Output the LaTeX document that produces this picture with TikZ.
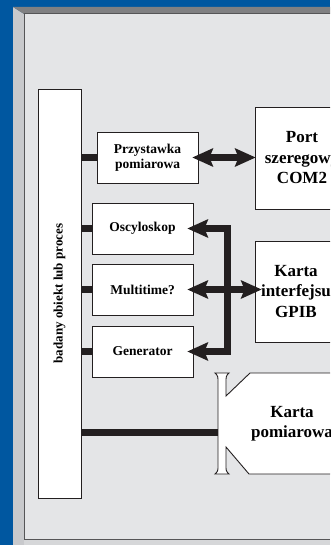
\documentclass[tikz,border=0pt]{standalone}
\usepackage{fontspec}
\setmainfont{Liberation Serif}
\usetikzlibrary{arrows.meta}

\definecolor{framebg}{RGB}{0,87,160}
\definecolor{bevellight}{RGB}{200,201,204}
\definecolor{beveldark}{RGB}{128,128,130}
\definecolor{bottomband}{RGB}{214,215,217}
\definecolor{panelgray}{RGB}{228,229,231}
\definecolor{edgeline}{RGB}{85,85,87}
\definecolor{ink}{RGB}{35,31,32}

\tikzset{
    base/.style={draw=ink, fill=white, line width=0.9pt, align=center, inner sep=0pt},
    smallbox/.style={base, minimum width=101pt, minimum height=51pt, font=\fontsize{13.5}{15}\selectfont\bfseries},
    bigbox/.style={base, minimum height=102pt, font=\fontsize{17}{20.5}\selectfont\bfseries},
    objbox/.style={base, minimum width=43pt, minimum height=409pt, font=\fontsize{13}{14}\selectfont\bfseries},
    stub/.style={draw=ink, line width=7pt},
    busarrow/.style={draw=ink, line width=7pt, line join=miter,
        {Stealth[length=21pt, width=19pt, inset=4pt, line width=0pt]}-{Stealth[length=21pt, width=19pt, inset=4pt, line width=0pt]}}
}

\begin{document}
\begin{tikzpicture}[x=1pt, y=-1pt]
    \useasboundingbox (0,0) rectangle (330,545);
    \clip (0,0) rectangle (330,545);

    % Frame
    \fill[framebg] (0,0) rectangle (330,545);
    \fill[bevellight] (13,7) -- (24,14) -- (24,545) -- (13,545) -- cycle;
    \fill[beveldark] (13,7) -- (330,7) -- (330,14) -- (24,14) -- cycle;
    \fill[bottomband] (24,539) rectangle (330,545);
    \fill[panelgray] (24,14) rectangle (330,539);
    \draw[edgeline, line width=1pt] (330,14) -- (24,14) -- (24,539) -- (330,539);

    % Object under test
    \node[objbox] (obj) at (59.5,293.5) {\rotatebox{90}{badany obiekt lub proces}};

    % Instruments
    \node[smallbox] (przy) at (147.5,157.5) {Przystawka\\pomiarowa};
    \node[smallbox] (osc) at (142.5,228.5) {Oscyloskop};
    \node[smallbox] (mult) at (142.5,289.5) {Multitime?};
    \node[smallbox] (gen) at (142.5,351.5) {Generator};

    % PC side
    \node[bigbox, minimum width=94pt] (port) at (302,158) {Port\\szeregowy\\COM2};
    \node[bigbox, minimum width=82pt, minimum height=101pt] (gpib) at (296,291.5) {Karta\\interfejsu\\GPIB};

    % Measurement card with edge connector
    \draw[ink, fill=white, line width=0.9pt]
        (215,373) -- (229,373) .. controls (226,376) .. (226,383) -- (226,396)
        -- (250,373) -- (360,373) -- (360,474) -- (249,474) -- (226,447)
        -- (226,465) .. controls (226,471) .. (229,474) -- (215,474)
        .. controls (218,471) .. (218,465) -- (218,383)
        .. controls (218,376) .. (215,373) -- cycle;
    \node[font=\fontsize{17}{20.5}\selectfont\bfseries, align=center] (kpom) at (292,423.5) {Karta\\pomiarowa};
    \coordinate (kslot) at (218,432);

    % Stubs to the object
    \draw[stub] (obj.east |- przy.west) -- (przy.west);
    \draw[stub] (obj.east |- osc.west) -- (osc.west);
    \draw[stub] (obj.east |- mult.west) -- (mult.west);
    \draw[stub] (obj.east |- gen.west) -- (gen.west);
    \draw[stub] (obj.east |- kslot) -- (kslot);

    % Serial link
    \draw[busarrow, shorten <=-6pt, shorten >=-1pt] (przy.east) -- (port.west |- przy.east);

    % GPIB bus
    \coordinate (busbot) at (227,351.5);
    \draw[busarrow, shorten <=-6pt, shorten >=-6pt] (osc.east) -| (busbot) -- (gen.east);
    \draw[busarrow, shorten <=-6pt, shorten >=-7pt] (mult.east) -- (gpib.west |- mult.east);
\end{tikzpicture}
\end{document}
